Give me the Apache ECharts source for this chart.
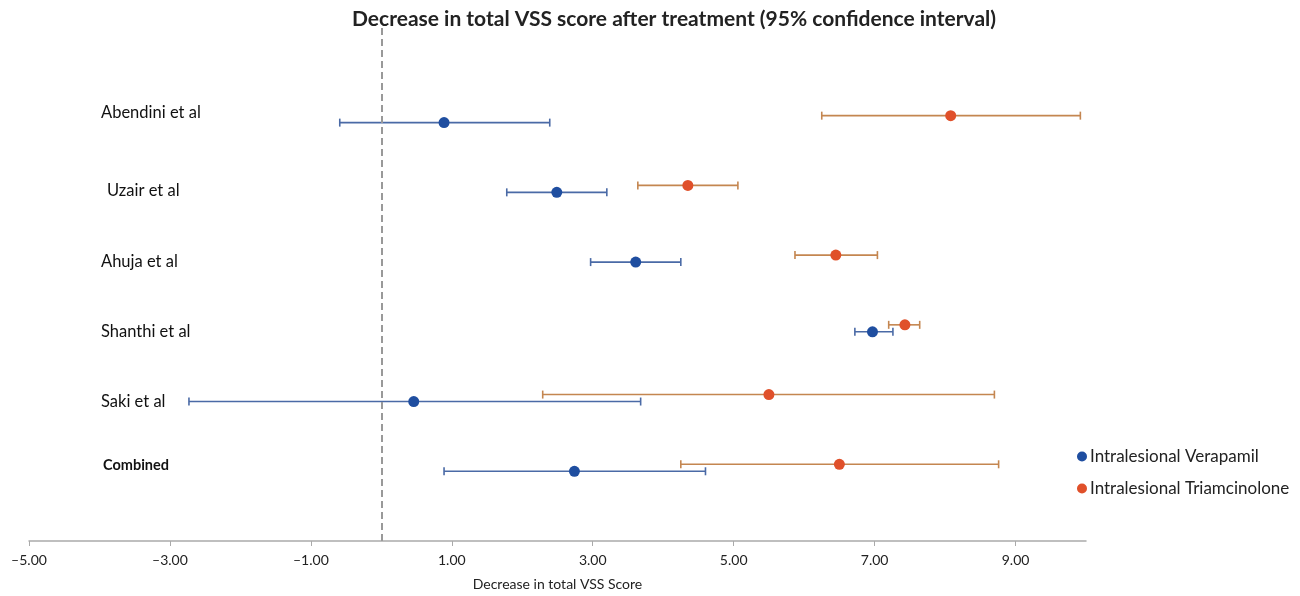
<!DOCTYPE html>
<html>
<head>
<meta charset="utf-8">
<script src="https://cdn.jsdelivr.net/npm/echarts@6/dist/echarts.min.js"></script>
<style>
  html, body { margin: 0; padding: 0; background: #fff; }
  #main { width: 1300px; height: 596px; }
</style>
</head>
<body>
<div id="main"></div>
<script>
// studies, top to bottom
var studies = ['Abendini et al', 'Uzair et al', 'Ahuja et al', 'Shanthi et al', 'Saki et al', 'Combined'];

// intralesional verapamil: mean and 95% CI
var verMean = [0.89, 2.49, 3.61, 6.97, 0.46, 2.74];
var verLow  = [-0.59, 1.78, 2.97, 6.72, -2.73, 0.89];
var verHigh = [2.39, 3.20, 4.25, 7.26, 3.68, 4.60];

// intralesional triamcinolone: mean and 95% CI
var triMean = [8.08, 4.35, 6.45, 7.43, 5.50, 6.50];
var triLow  = [6.25, 3.64, 5.87, 7.20, 2.29, 4.25];
var triHigh = [9.92, 5.06, 7.04, 7.64, 8.70, 8.76];

var xTicks = [-5, -3, -1, 1, 3, 5, 7, 9];

var fontFam = 'Lato, "Open Sans", sans-serif';
var triShift = 0.1; // orange row drawn slightly above the blue one

function rowOf(i) { return studies.length - i; }

function pts(mean, shift) {
    var arr = [];
    for (var i = 0; i < mean.length; i++) arr.push([mean[i], rowOf(i) + shift]);
    return arr;
}
function bars(low, high, shift) {
    var arr = [];
    for (var i = 0; i < low.length; i++) arr.push([low[i], high[i], rowOf(i) + shift]);
    return arr;
}

function errorBar(color) {
    return function (params, api) {
        var a = api.coord([api.value(0), api.value(2)]);
        var b = api.coord([api.value(1), api.value(2)]);
        var h = 4;
        var st = { stroke: color, lineWidth: 1.6 };
        return {
            type: 'group',
            children: [
                { type: 'line', shape: { x1: a[0], y1: a[1], x2: b[0], y2: b[1] }, style: st },
                { type: 'line', shape: { x1: a[0], y1: a[1] - h, x2: a[0], y2: a[1] + h }, style: st },
                { type: 'line', shape: { x1: b[0], y1: b[1] - h, x2: b[0], y2: b[1] + h }, style: st }
            ]
        };
    };
}

var chart = echarts.init(document.getElementById('main'));

var option = {
    animation: false,
    backgroundColor: '#fff',
    title: {
        text: 'Decrease in total VSS score after treatment (95% confidence interval)',
        left: 669,
        textAlign: 'center',
        top: 4,
        textStyle: { fontFamily: fontFam, fontSize: 21, fontWeight: 'bold', color: '#222' }
    },
    legend: {
        orient: 'vertical',
        left: 1072,
        top: 443,
        itemGap: 15,
        itemWidth: 10,
        itemHeight: 10,
        icon: 'circle',
        data: ['Intralesional Verapamil', 'Intralesional Triamcinolone'],
        textStyle: { fontFamily: fontFam, fontSize: 17, color: '#222', padding: [0, 0, 0, -2] }
    },
    grid: { left: 29, right: 214, top: 25, bottom: 54 },
    xAxis: {
        type: 'value',
        min: xTicks[0],
        max: 10,
        interval: 2,
        name: 'Decrease in total VSS Score',
        nameLocation: 'middle',
        nameGap: 36,
        nameTextStyle: { fontFamily: fontFam, fontSize: 14, color: '#222' },
        axisLine: { show: true, lineStyle: { color: '#aaa', width: 1.5 } },
        axisTick: { show: true, length: 5, lineStyle: { color: '#aaa' } },
        splitLine: { show: false },
        axisLabel: {
            showMaxLabel: false,
            margin: 12,
            fontFamily: fontFam,
            fontSize: 14,
            color: '#222',
            formatter: function (v) {
                if (xTicks.indexOf(v) < 0) return '';
                return (v < 0 ? '\u2013' : '') + Math.abs(v).toFixed(2);
            }
        }
    },
    yAxis: {
        type: 'value',
        min: 0,
        max: 7.4,
        interval: 1,
        axisLine: { show: false },
        axisTick: { show: false },
        splitLine: { show: false },
        axisLabel: {
            inside: true,
            margin: 72,
            align: 'left',
            fontFamily: fontFam,
            fontSize: 16.5,
            color: '#111',
            formatter: function (v) {
                var i = studies.length - v;
                if (i < 0 || i >= studies.length) return '';
                if (studies[i] === 'Combined') return '{b|' + studies[i] + '}';
                if (i === 0) return '{up|' + studies[i] + '}';
                if (i === 1) return '{uz|' + studies[i] + '}';
                return studies[i];
            },
            rich: {
                b: { fontFamily: fontFam, fontSize: 14.5, fontWeight: 'bold', color: '#111', padding: [0, 0, 12, 2] },
                up: { fontFamily: fontFam, fontSize: 16.5, color: '#111', padding: [0, 0, 20, 0] },
                uz: { fontFamily: fontFam, fontSize: 16.5, color: '#111', padding: [0, 0, 4, 6] }
            }
        }
    },
    series: [
        {
            type: 'custom',
            renderItem: errorBar('#4a6aa6'),
            encode: { x: [0, 1], y: 2 },
            data: bars(verLow, verHigh, 0),
            z: 2,
            markLine: {
                silent: true,
                symbol: 'none',
                label: { show: false },
                lineStyle: { color: '#999', type: [7, 4], width: 2 },
                data: [{ xAxis: 0 }]
            }
        },
        {
            type: 'custom',
            renderItem: errorBar('#c48650'),
            encode: { x: [0, 1], y: 2 },
            data: bars(triLow, triHigh, triShift),
            z: 2
        },
        {
            name: 'Intralesional Verapamil',
            type: 'scatter',
            symbol: 'circle',
            symbolSize: 11,
            itemStyle: { color: '#1f4ea0', opacity: 1 },
            data: pts(verMean, 0),
            z: 3
        },
        {
            name: 'Intralesional Triamcinolone',
            type: 'scatter',
            symbol: 'circle',
            symbolSize: 11,
            itemStyle: { color: '#e0502a', opacity: 1 },
            data: pts(triMean, triShift),
            z: 3
        }
    ]
};

chart.setOption(option);
</script>
</body>
</html>
